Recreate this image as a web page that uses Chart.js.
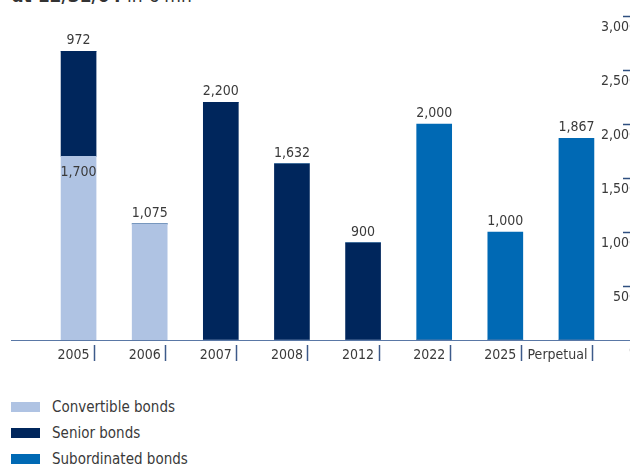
<!DOCTYPE html>
<html>
<head>
<meta charset="utf-8">
<script src="https://cdn.jsdelivr.net/npm/chart.js@4.4.1/dist/chart.umd.min.js"></script>
<style>
  html, body { margin: 0; padding: 0; background: #fff; }
  body { width: 630px; height: 464px; overflow: hidden; position: relative;
         font-family: "Liberation Sans Narrow", "DejaVu Sans Condensed", "Roboto Condensed", sans-serif; color: #3a3a3a; }
  #wrap { position: absolute; left: 0; top: 0; width: 680px; height: 380px; }
  #title { position: absolute; left: 12px; top: -16px; font-size: 19px; white-space: nowrap; color: #333; }
  #title b { font-weight: bold; }
  #legend { position: absolute; left: 11px; top: 394px; }
  .item { display: flex; align-items: center; height: 26px; font-size: 15px; }
  .box { width: 29px; height: 10px; margin-right: 12px; }
</style>
</head>
<body>
<div id="title"><b>at 12/31/04</b> in € mn</div>
<div id="wrap"><canvas id="bonds" width="680" height="380"></canvas></div>
<div id="legend"></div>
<script>
const FONT = '"Liberation Sans Narrow", "DejaVu Sans Condensed", "Roboto Condensed", sans-serif';
const TEXT = '#3a3a3a';

const maturities = ['2005', '2006', '2007', '2008', '2012', '2022', '2025', 'Perpetual'];
const convertible = [1700, 1075, 0, 0, 0, 0, 0, 0];
const senior = [972, 0, 2200, 1632, 900, 0, 0, 0];
const subordinated = [0, 0, 0, 0, 0, 2000, 1000, 1867];
const yTicks = [0, 500, 1000, 1500, 2000, 2500, 3000];

const series = [
  { label: 'Convertible bonds', data: convertible, color: '#afc3e3' },
  { label: 'Senior bonds', data: senior, color: '#00265c' },
  { label: 'Subordinated bonds', data: subordinated, color: '#0069b4' }
];

const fmt = (v) => v.toLocaleString('en-US');

// value labels: on top of the stack, or inside the segment when something sits above it
const valueLabels = {
  id: 'valueLabels',
  afterDatasetsDraw(chart) {
    const { ctx } = chart;
    const sets = chart.data.datasets;
    ctx.save();
    ctx.font = `14px ${FONT}`;
    ctx.fillStyle = TEXT;
    ctx.textAlign = 'center';
    sets.forEach((ds, di) => {
      chart.getDatasetMeta(di).data.forEach((bar, i) => {
        const v = ds.data[i];
        if (!v) return;
        const covered = sets.some((o, oi) => oi > di && o.data[i]);
        if (covered) {
          ctx.textBaseline = 'top';
          ctx.fillText(fmt(v), bar.x, bar.y + 9);
        } else {
          ctx.textBaseline = 'alphabetic';
          ctx.fillText(fmt(v), bar.x, bar.y - 7);
        }
      });
    });
    ctx.restore();
  }
};

// baseline across the whole width, little separators after each category label,
// and the short tick marks of the value axis
const axisMarks = {
  id: 'axisMarks',
  afterDraw(chart) {
    const { ctx, chartArea, scales } = chart;
    const meta = chart.getDatasetMeta(0);
    ctx.save();
    ctx.strokeStyle = '#5a78a6';
    ctx.lineWidth = 1.2;
    ctx.beginPath();
    ctx.moveTo(11, chartArea.bottom + 0.5);
    ctx.lineTo(chart.width, chartArea.bottom + 0.5);
    ctx.stroke();

    ctx.strokeStyle = '#3d5a8a';
    ctx.lineWidth = 1.5;
    maturities.forEach((m, i) => {
      const half = meta.data[i].width / 2;
      const x = Math.round(scales.x.getPixelForValue(i) + half) - 1.5;
      ctx.beginPath();
      ctx.moveTo(x, chartArea.bottom + 5);
      ctx.lineTo(x, chartArea.bottom + 21);
      ctx.stroke();
    });

    ctx.strokeStyle = '#2f4f80';
    ctx.lineWidth = 1.4;
    yTicks.forEach((t) => {
      if (t === 0) return;
      const y = Math.round(scales.y.getPixelForValue(t)) + 0.5;
      ctx.beginPath();
      ctx.moveTo(623, y);
      ctx.lineTo(chart.width, y);
      ctx.stroke();
    });
    ctx.restore();
  }
};

const chart = new Chart(document.getElementById('bonds'), {
  type: 'bar',
  data: {
    labels: maturities,
    datasets: series.map((s) => ({
      label: s.label,
      data: s.data,
      backgroundColor: s.color,
      barThickness: 35
    }))
  },
  options: {
    responsive: false,
    animation: false,
    layout: { padding: { left: 43, right: 43, top: 16, bottom: 0 } },
    plugins: { legend: { display: false }, tooltip: { enabled: false } },
    scales: {
      x: {
        stacked: true,
        offset: true,
        grid: { display: false, drawTicks: false },
        border: { display: false },
        ticks: { align: 'end', labelOffset: 11, padding: 7, color: TEXT, font: { family: FONT, size: 14 } },
        afterFit: (s) => { s.height = 40; }
      },
      y: {
        stacked: true,
        position: 'right',
        min: 0,
        max: 3000,
        afterBuildTicks: (s) => { s.ticks = yTicks.map((v) => ({ value: v })); },
        grid: { display: false, drawTicks: false },
        border: { display: false },
        ticks: { mirror: true, crossAlign: 'near', labelOffset: 11, padding: 25, color: TEXT,
                 font: { family: FONT, size: 14 }, callback: (v) => fmt(v) },
        afterFit: (s) => { s.width = 25; s.paddingTop = 0; s.paddingBottom = 0; }
      }
    }
  },
  plugins: [valueLabels, axisMarks]
});

// legend, one row per series
const legend = document.getElementById('legend');
chart.data.datasets.forEach((ds) => {
  const row = document.createElement('div');
  row.className = 'item';
  const box = document.createElement('span');
  box.className = 'box';
  box.style.background = ds.backgroundColor;
  row.appendChild(box);
  row.appendChild(document.createTextNode(ds.label));
  legend.appendChild(row);
});
</script>
</body>
</html>
